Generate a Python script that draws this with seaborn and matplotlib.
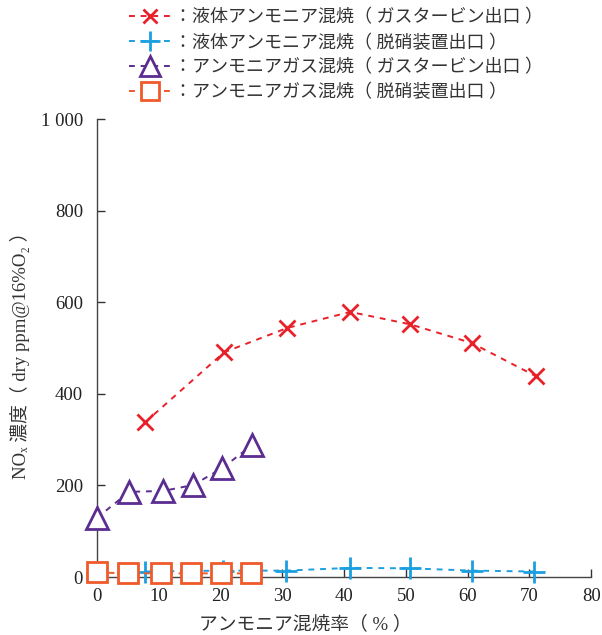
import matplotlib
matplotlib.use("Agg")
import matplotlib.pyplot as plt
import seaborn as sns

# data
liq_gt_x = [7.8, 20.6, 30.8, 41.0, 50.7, 60.7, 71.0]
liq_gt_y = [338, 491, 544, 579, 552, 511, 439]

liq_dn_x = [7.8, 20.4, 30.6, 41.0, 50.7, 60.7, 70.8]
liq_dn_y = [12, 14, 14, 20, 19, 14, 12]

gas_gt_x = [0, 5.2, 10.7, 15.6, 20.3, 25.1]
gas_gt_y = [129, 186, 188, 201, 238, 288]

gas_dn_x = [0, 5.0, 10.4, 15.2, 20.1, 24.9]
gas_dn_y = [10, 8, 8, 8, 8, 8]

labels = ["：液体アンモニア混焼（ ガスタービン出口 ）",
          "：液体アンモニア混焼（ 脱硝装置出口 ）",
          "：アンモニアガス混焼（ ガスタービン出口 ）",
          "：アンモニアガス混焼（ 脱硝装置出口 ）"]

x_ticks = [0, 10, 20, 30, 40, 50, 60, 70, 80]
y_ticks = [0, 200, 400, 600, 800, 1000]
y_ticklabels = ["0", "200", "400", "600", "800", "1 000"]

sns.set_style("ticks")
plt.rcParams['font.family'] = ['Liberation Serif', 'Noto Sans CJK JP', 'DejaVu Serif']

fig = plt.figure(figsize=(6.02, 6.35), dpi=100)
ax = fig.add_axes([0.161, 0.0913, 0.821, 0.721])

series = [
    (liq_gt_x, liq_gt_y, "#e8202a", "x", 11, labels[0]),
    (liq_dn_x, liq_dn_y, "#1a9fe0", "+", 16, labels[1]),
    (gas_gt_x, gas_gt_y, "#5b2d91", "^", 16, labels[2]),
    (gas_dn_x, gas_dn_y, "#f05a2a", "s", 14, labels[3]),
]
for xs, ys, col, mk, ms, lab in series:
    sns.lineplot(x=xs, y=ys, ax=ax, color=col, marker=mk, markersize=ms,
                 markeredgecolor=col, markerfacecolor="white",
                 markeredgewidth=2, linestyle=(0, (3, 3)), linewidth=1.4,
                 label=lab, clip_on=False, zorder=3)

ax.set_xlim(0, 80)
ax.set_ylim(0, 1000)
ax.set_xticks(x_ticks)
ax.set_yticks(y_ticks)
ax.set_yticklabels(y_ticklabels)
ax.tick_params(direction="in", length=6, width=1, colors="#333333",
               labelsize=13.5, labelcolor="#222222")
ax.tick_params(axis="x", pad=8)
ax.tick_params(axis="y", pad=10)
sns.despine(ax=ax)
for s in ["left", "bottom"]:
    ax.spines[s].set_color("#444444")
    ax.spines[s].set_linewidth(1)

ax.set_xlabel("アンモニア混焼率（ % ）", fontsize=13.5, color="#333333")
ax.set_ylabel("NOₓ 濃度（ dry ppm@16%O₂ ）", fontsize=13.5, color="#333333")
ax.xaxis.set_label_coords(0.421, -0.083)
ax.yaxis.set_label_coords(-0.135, 0.495)

ax.legend(loc="upper center", bbox_to_anchor=(0.558, 1.005), bbox_transform=fig.transFigure,
          frameon=False, fontsize=13, handlelength=2.3, handletextpad=0.2,
          labelspacing=0.42, borderaxespad=0.3, markerscale=0.9, labelcolor="#333333")

fig.savefig("out.png", dpi=100)
